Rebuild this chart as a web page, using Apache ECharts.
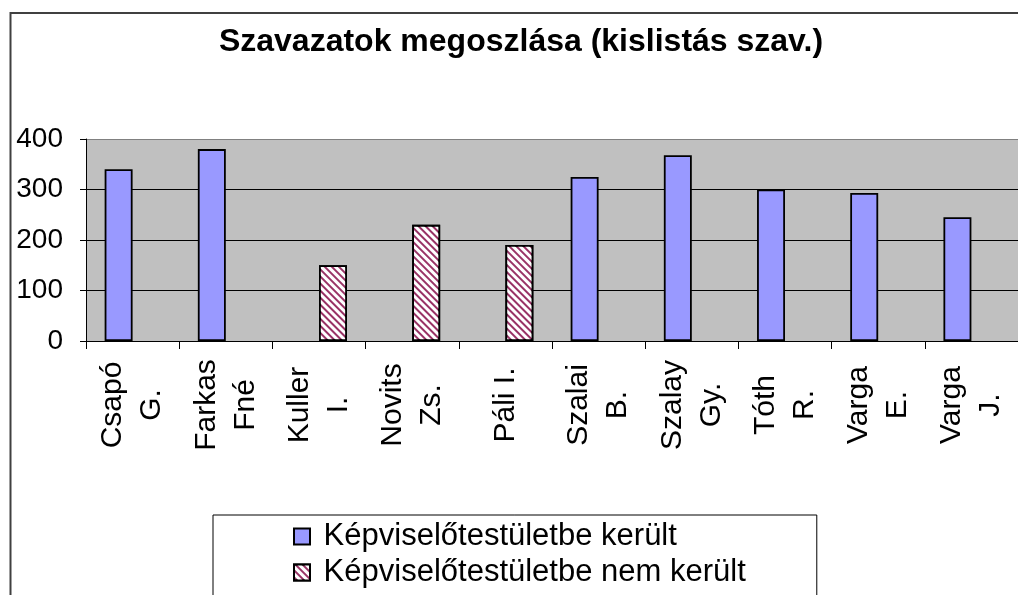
<!DOCTYPE html>
<html>
<head>
<meta charset="utf-8">
<script src="https://cdn.jsdelivr.net/npm/echarts@6/dist/echarts.min.js"></script>
<style>
html,body{margin:0;padding:0;background:#fff;}
#c{width:1018px;height:595px;}
</style>
</head>
<body>
<div id="c"></div>
<script>
const categories = ['Csapó\nG.', 'Farkas\nFné', 'Kuller\nI.', 'Novits\nZs.', 'Páli I.', 'Szalai\nB.', 'Szalay\nGy.', 'Tóth\nR.', 'Varga\nE.', 'Varga\nJ.'];
const seriesNames = ['Képviselőtestületbe került', 'Képviselőtestületbe nem került'];
const elected = [340, 380, '-', '-', '-', 325, 368, 300, 293, 245];
const notElected = ['-', '-', 150, 230, 190, '-', '-', '-', '-', '-'];
const yTicks = { min: 0, max: 400, interval: 100 };

const FONT = 'Liberation Sans, Arial, sans-serif';
const chart = echarts.init(document.getElementById('c'), null, { renderer: 'canvas' });
chart.setOption({
  backgroundColor: '#fff',
  animation: false,
  title: {
    text: 'Szavazatok megoszlása (kislistás szav.)',
    left: 516,
    textAlign: 'center',
    top: 21,
    textStyle: { fontFamily: FONT, fontSize: 32, fontWeight: 'bold', color: '#000' }
  },
  graphic: [{
    type: 'rect',
    shape: { x: 10.5, y: 13, width: 1040, height: 620 },
    style: { fill: 'none', stroke: '#404040', lineWidth: 2 },
    silent: true,
    z: -1
  }],
  legend: {
    data: seriesNames,
    orient: 'vertical',
    left: 213,
    top: 515,
    height: 200,
    borderColor: '#000',
    borderWidth: 1,
    padding: [6, 71, 40, 80],
    itemWidth: 16,
    itemHeight: 16,
    itemGap: 5,
    icon: 'rect',
    formatter: n => ' ' + n,
    textStyle: { fontFamily: FONT, fontSize: 31, color: '#000' }
  },
  grid: {
    left: 86, top: 139, right: -9, bottom: 254,
    show: true, backgroundColor: '#C0C0C0', borderWidth: 0,
    containLabel: false
  },
  xAxis: {
    type: 'category',
    data: categories,
    axisLine: { lineStyle: { color: '#000', width: 1 } },
    axisTick: { show: true, length: 8, lineStyle: { color: '#000' }, alignWithLabel: false },
    axisLabel: {
      interval: 0, rotate: 90, align: 'center', verticalAlign: 'middle',
      margin: 64, lineHeight: 39,
      fontFamily: FONT, fontSize: 30, color: '#000'
    },
    splitLine: { show: false }
  },
  yAxis: {
    type: 'value',
    min: yTicks.min, max: yTicks.max, interval: yTicks.interval,
    axisLine: { show: true, lineStyle: { color: '#000', width: 1 } },
    axisTick: { show: true, length: 6, lineStyle: { color: '#000' } },
    axisLabel: { margin: 23, fontFamily: FONT, fontSize: 28, color: '#000' },
    splitLine: { show: true, lineStyle: { color: ['#000', '#000', '#000', '#000', '#808080'], width: 1 } }
  },
  series: [
    {
      name: seriesNames[0], type: 'bar', data: elected,
      barGap: '0%', barCategoryGap: '40%',
      itemStyle: { color: '#9999FF', borderColor: '#000', borderWidth: 1.8 }
    },
    {
      name: seriesNames[1], type: 'bar', data: notElected,
      barGap: '0%', barCategoryGap: '40%',
      itemStyle: {
        color: '#993366', borderColor: '#000', borderWidth: 1.8,
        decal: { color: '#ffffff', symbol: 'rect', dashArrayX: [1, 0], dashArrayY: [2.2, 1.8], rotation: Math.PI / 4, symbolSize: 1 }
      }
    }
  ]
});
</script>
</body>
</html>
